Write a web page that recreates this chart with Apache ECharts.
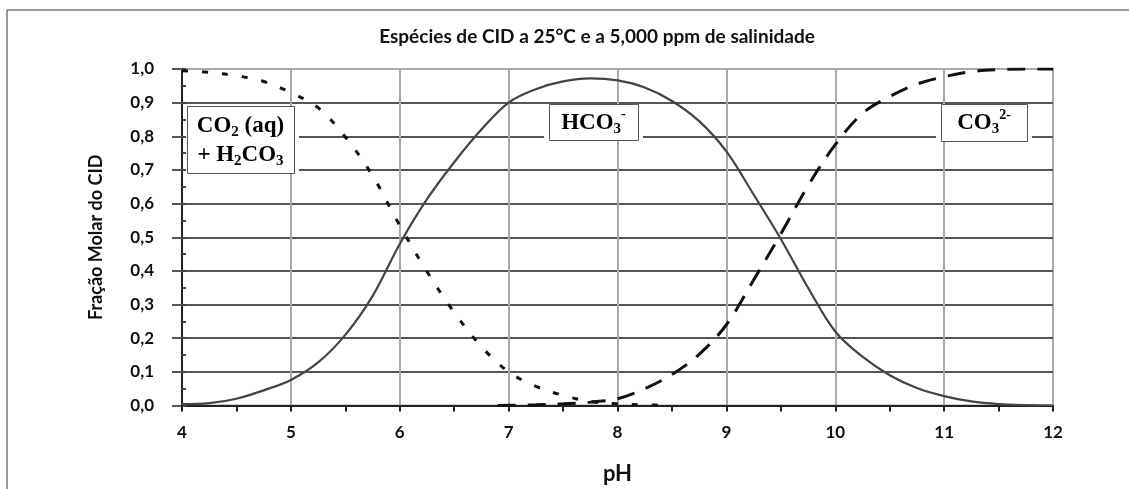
<!DOCTYPE html>
<html>
<head>
<meta charset="utf-8">
<script src="https://cdn.jsdelivr.net/npm/echarts@6.0.0/dist/echarts.min.js"></script>
<style>
	html, body { margin: 0; padding: 0; background: #fff; }
	#chart { width: 1129px; height: 489px; }
</style>
</head>
<body>
<div id="chart"></div>
<script>
// pH valores
var phCO2 = [4, 4.25, 4.5, 4.75, 5, 5.25, 5.5, 5.75, 6, 6.25, 6.5, 6.75, 7, 7.25, 7.5, 7.75, 8, 8.25, 8.5];
var fracCO2 = [0.995, 0.99, 0.98, 0.963, 0.93, 0.885, 0.798, 0.683, 0.535, 0.398, 0.277, 0.175, 0.10, 0.057, 0.03, 0.012, 0.005, 0.002, 0.0];

var phHCO3 = [4, 4.25, 4.5, 4.75, 5, 5.25, 5.5, 5.75, 6, 6.25, 6.5, 6.75, 7, 7.25, 7.5, 7.75, 8, 8.25, 8.5, 8.75, 9, 9.25, 9.5, 9.75, 10, 10.25, 10.5, 10.75, 11, 11.25, 11.5, 11.75, 12];
var fracHCO3 = [0.004, 0.007, 0.02, 0.045, 0.076, 0.128, 0.21, 0.325, 0.48, 0.613, 0.723, 0.82, 0.90, 0.94, 0.963, 0.972, 0.966, 0.945, 0.905, 0.845, 0.755, 0.627, 0.495, 0.35, 0.22, 0.145, 0.09, 0.052, 0.028, 0.012, 0.004, 0.001, 0.0];

var phCO3 = [6.9, 7.25, 7.5, 7.75, 8, 8.25, 8.5, 8.75, 9, 9.25, 9.5, 9.75, 10, 10.25, 10.5, 10.75, 11, 11.25, 11.5, 11.75, 12];
var fracCO3 = [0.0, 0.002, 0.005, 0.01, 0.02, 0.05, 0.092, 0.152, 0.24, 0.373, 0.51, 0.653, 0.775, 0.868, 0.918, 0.955, 0.977, 0.992, 0.998, 1.0, 1.0];

// rótulos das caixas: [pH, fração] do canto superior esquerdo, largura, altura
var boxCO2 = [4.05, 0.89, 107, 67];
var boxHCO3 = [7.367, 0.896, 89, 36];
var boxCO3 = [10.973, 0.896, 86, 37];

function pairs(xs, ys) {
	return xs.map(function (v, k) { return [v, ys[k]]; });
}

var labelFont = 'Lato, "Open Sans", sans-serif';
var serifFont = '"Liberation Serif", "DejaVu Serif", serif';

var myChart = echarts.init(document.getElementById('chart'));

var option = {
	animation: false,
	backgroundColor: '#fff',
	title: {
		text: 'Espécies de CID a 25°C e a 5,000 ppm de salinidade',
		left: 597,
		top: 27,
		padding: 0,
		textAlign: 'center',
		textStyle: { fontFamily: labelFont, fontWeight: 'bold', fontSize: 19, color: '#111' }
	},
	grid: {
		left: 182, top: 69, width: 871, height: 336.5,
		outerBoundsMode: 'none',
		containLabel: false,
		show: true, borderColor: '#aaa', borderWidth: 2, backgroundColor: 'transparent'
	},
	xAxis: {
		type: 'value', min: 4, max: 12, interval: 1,
		name: 'pH', nameLocation: 'middle', nameGap: 57,
		nameTextStyle: { fontFamily: labelFont, fontWeight: 'bold', fontSize: 22, color: '#111' },
		axisLine: { onZero: false, lineStyle: { color: '#222', width: 2 } },
		axisTick: { length: 6, lineStyle: { color: '#222', width: 2 } },
		minorTick: { show: true, splitNumber: 2, length: 6, lineStyle: { color: '#222', width: 2 } },
		axisLabel: { margin: 19, fontFamily: labelFont, fontWeight: 'bold', fontSize: 17, color: '#111' },
		splitLine: { show: true, showMinLine: false, showMaxLine: false, lineStyle: { color: '#aaa', width: 2 } }
	},
	yAxis: [{
		type: 'value', min: 0, max: 1, interval: 0.1,
		name: 'Fração Molar do CID', nameLocation: 'middle', nameGap: 77,
		nameTextStyle: { fontFamily: labelFont, fontWeight: 'bold', fontSize: 18, color: '#111' },
		axisLine: { show: true, lineStyle: { color: '#222', width: 2 } },
		axisTick: { inside: true, length: 4, lineStyle: { color: '#444', width: 2 } },
		minorTick: { show: true, splitNumber: 2, length: 4, lineStyle: { color: '#444', width: 2 } },
		axisLabel: {
			margin: 28, fontFamily: labelFont, fontWeight: 'bold', fontSize: 17, color: '#111',
			formatter: function (value) { return value.toFixed(1).replace('.', ','); }
		},
		splitLine: { show: true, showMinLine: false, showMaxLine: false, lineStyle: { color: '#555', width: 2 } }
	}, {
		// só os traços externos que prolongam as linhas de grade
		type: 'value', min: 0, max: 1, interval: 0.1, position: 'left',
		axisLine: { show: false },
		axisTick: { show: true, length: 10, lineStyle: { color: '#555', width: 2 } },
		axisLabel: { show: false },
		splitLine: { show: false }
	}],
	series: [{
		name: 'CO2 (aq) + H2CO3',
		type: 'line',
		data: pairs(phCO2, fracCO2),
		smooth: 0.35,
		showSymbol: false,
		lineStyle: { color: '#111', width: 3, type: [6, 14] },
		z: 3
	}, {
		name: 'HCO3-',
		type: 'line',
		data: pairs(phHCO3, fracHCO3),
		smooth: 0.35,
		showSymbol: false,
		lineStyle: { color: '#444', width: 2.2 },
		z: 3
	}, {
		name: 'CO3 2-',
		type: 'line',
		data: pairs(phCO3, fracCO3),
		smooth: 0.35,
		showSymbol: false,
		lineStyle: { color: '#111', width: 3, type: [18, 12] },
		z: 3
	}]
};

myChart.setOption(option);

var richStyle = {
	m: { fontFamily: serifFont, fontWeight: 'bold', fontSize: 23, color: '#111', lineHeight: 29 },
	s: { fontFamily: serifFont, fontWeight: 'bold', fontSize: 15, color: '#111', lineHeight: 29, padding: [12, 0, 0, 0] },
	u: { fontFamily: serifFont, fontWeight: 'bold', fontSize: 14, color: '#111', lineHeight: 29, padding: [0, 0, 17, 0] }
};

function makeBox(box, text) {
	var p = myChart.convertToPixel({ xAxisIndex: 0, yAxisIndex: 0 }, [box[0], box[1]]);
	var w = box[2], h = box[3];
	return {
		type: 'group', x: Math.round(p[0]), y: Math.round(p[1]), z: 1,
		children: [{
			type: 'rect', shape: { x: -5, y: 0, width: w + 10, height: h },
			style: { fill: '#fff' }
		}, {
			type: 'rect', shape: { x: 0.5, y: 0.5, width: w, height: h },
			style: { fill: '#fff', stroke: '#555', lineWidth: 1 }
		}, {
			type: 'text', x: w / 2, y: h / 2 + 1,
			style: { text: text, rich: richStyle, align: 'center', verticalAlign: 'middle' }
		}]
	};
}

myChart.setOption({
	graphic: [
		// moldura da figura
		{ type: 'line', shape: { x1: 7, y1: 10, x2: 1129, y2: 10 }, style: { stroke: '#777', lineWidth: 1.5 }, z: 1 },
		{ type: 'line', shape: { x1: 7, y1: 10, x2: 7, y2: 489 }, style: { stroke: '#777', lineWidth: 1.5 }, z: 1 },
		makeBox(boxCO2, '{m|CO}{s|2}{m| (aq)}\n{m|+ H}{s|2}{m|CO}{s|3}'),
		makeBox(boxHCO3, '{m|HCO}{s|3}{u|-}'),
		makeBox(boxCO3, '{m|CO}{s|3}{u|2-}')
	]
});

window.onresize = myChart.resize;
</script>
</body>
</html>
